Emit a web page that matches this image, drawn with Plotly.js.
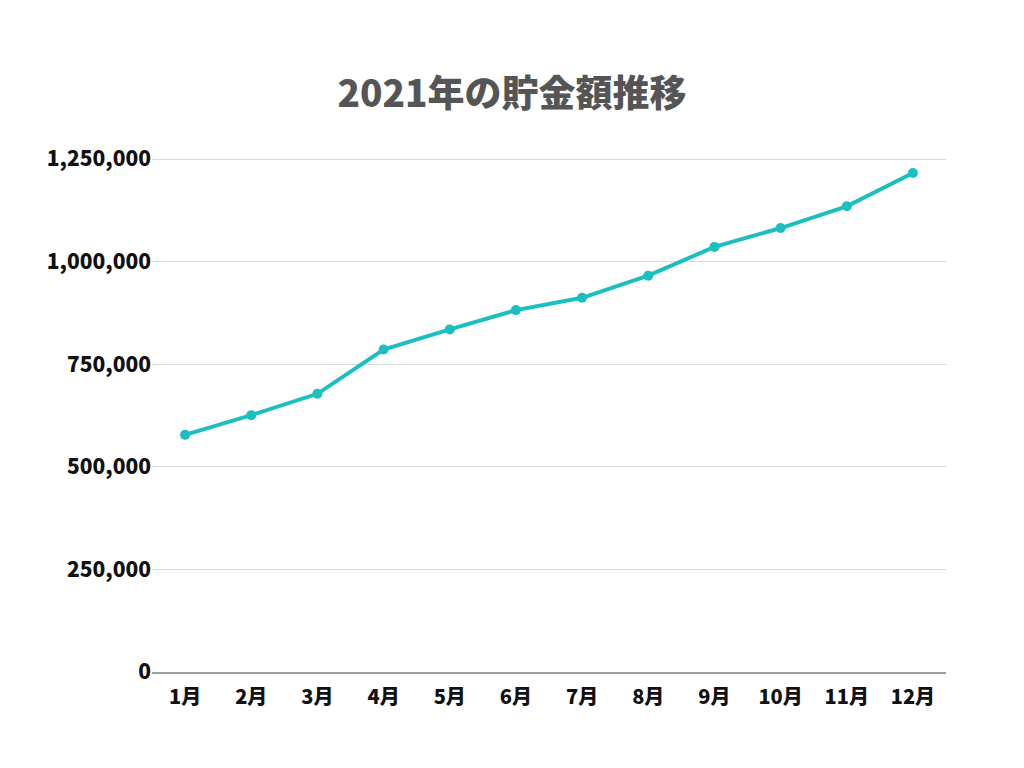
<!DOCTYPE html>
<html>
<head>
<meta charset="utf-8">
<script src="https://cdn.plot.ly/plotly-3.0.1.min.js"></script>
<style>
  html, body { margin: 0; padding: 0; background: #ffffff; }
  #chart { width: 1024px; height: 768px; }
</style>
</head>
<body>
<div id="chart"></div>
<script>
// Chart data
var months = ["1月", "2月", "3月", "4月", "5月", "6月", "7月", "8月", "9月", "10月", "11月", "12月"];
var savings = [578000, 626000, 678000, 786000, 835000, 882000, 912000, 966000, 1036000, 1082000, 1135000, 1216000];
var yTicks = [0, 250000, 500000, 750000, 1000000, 1250000];
var yTickText = ["0", "250,000", "500,000", "750,000", "1,000,000", "1,250,000"];

var fontFamily = '"Noto Sans CJK JP", "Noto Sans", sans-serif';

var trace = {
  x: months,
  y: savings,
  type: 'scatter',
  mode: 'lines+markers',
  line: {color: '#1cbfc0', width: 4},
  marker: {color: '#1cbfc0', size: 10},
  hoverinfo: 'x+y'
};

var layout = {
  width: 1024, height: 768,
  paper_bgcolor: '#ffffff', plot_bgcolor: '#ffffff',
  margin: {l: 152, r: 78, t: 155, b: 96},
  showlegend: false,
  font: {family: fontFamily, color: '#111111'},
  title: {
    text: '2021年の貯金額推移',
    font: {family: fontFamily, size: 37, color: '#555555', weight: 900},
    x: 0.5, xanchor: 'center',
    y: 1 - 94 / 768, yanchor: 'middle'
  },
  xaxis: {
    type: 'category',
    range: [-0.5, 11.5],
    showgrid: false,
    showline: true, linecolor: '#9e9e9e', linewidth: 1.5,
    ticks: '', ticklabelstandoff: 6,
    tickfont: {family: fontFamily, size: 20, color: '#111111', weight: 900},
    zeroline: false, fixedrange: true
  },
  yaxis: {
    // a little headroom so the top gridline stays visible
    range: [0, 1260000],
    tickmode: 'array', tickvals: yTicks, ticktext: yTickText,
    showgrid: true, gridcolor: '#d9d9d9', gridwidth: 1,
    showline: false, zeroline: false,
    ticks: '', ticklabelstandoff: 0,
    tickfont: {family: fontFamily, size: 21, color: '#111111', weight: 900},
    fixedrange: true
  }
};

Plotly.newPlot('chart', [trace], layout, {displayModeBar: false, staticPlot: true});
</script>
</body>
</html>
